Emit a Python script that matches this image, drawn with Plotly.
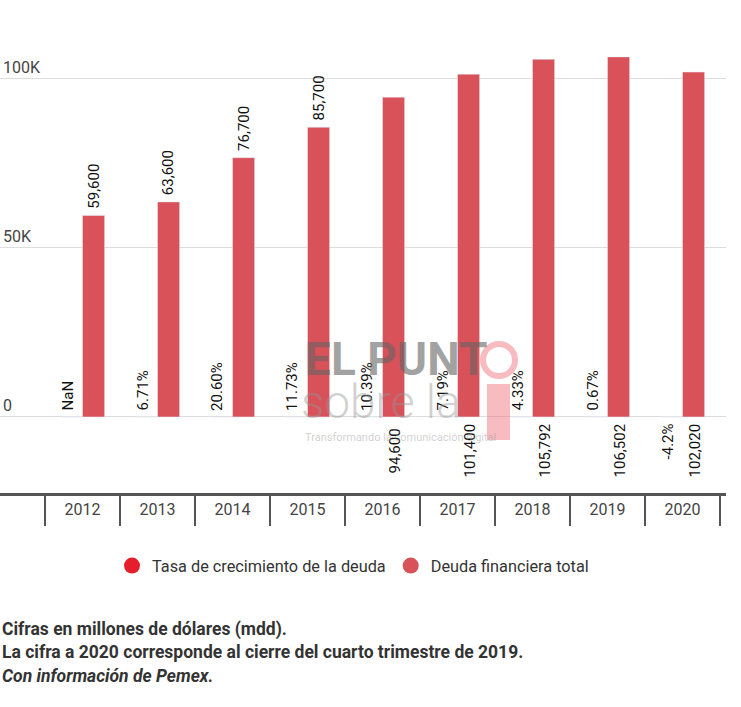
import plotly.graph_objects as go

# datos (millones de dólares)
years = ["2012", "2013", "2014", "2015", "2016", "2017", "2018", "2019", "2020"]
deuda_total = [59600, 63600, 76700, 85700, 94600, 101400, 105792, 106502, 102020]
tasa_crec = [None, 6.71, 20.60, 11.73, 10.39, 7.19, 4.33, 0.67, -4.2]
tasa_labels = ["NaN", "6.71%", "20.60%", "11.73%", "10.39%", "7.19%", "4.33%", "0.67%", "-4.2%"]
y_ticks = [0, 50000, 100000]
y_tick_labels = ["0", "50K", "100K"]

# etiquetas de deuda que no caben arriba van bajo el eje
deuda_label_below = [False, False, False, False, True, True, True, True, True]

COLOR_TASA = "#e41f2b"
COLOR_DEUDA = "#d9525a"
FONT = "Roboto"

# geometría en pixeles (ventana 741x707)
W, H = 741, 707
M_T, M_B, M_L, M_R = 40, 214, 0, 15
PLOT_H = H - M_T - M_B
PLOT_W = W - M_L - M_R


def py(p):
    """pixel vertical -> coordenada paper"""
    return (H - M_B - p) / PLOT_H


def px(p):
    return (p - M_L) / PLOT_W


fig = go.Figure()

fig.add_trace(go.Bar(
    x=years, y=[v if v is not None else 0 for v in tasa_crec],
    name="Tasa de crecimiento de la deuda",
    marker_color=COLOR_TASA, showlegend=False, hoverinfo="skip",
))
fig.add_trace(go.Bar(
    x=years, y=deuda_total,
    name="Deuda financiera total",
    marker_color=COLOR_DEUDA, showlegend=False,
))

# entradas de leyenda con círculos
for name, color in [("Tasa de crecimiento de la deuda", COLOR_TASA),
                    ("Deuda financiera total", COLOR_DEUDA)]:
    fig.add_trace(go.Scatter(
        x=[None], y=[None], mode="markers", name=name,
        marker=dict(size=20, color=color, symbol="circle"),
    ))

label_font = dict(family=FONT, size=15, color="#111111")
annotations = []

for i, (v, lab) in enumerate(zip(tasa_crec, tasa_labels)):
    neg = v is not None and v < 0
    annotations.append(dict(
        x=i - 0.2, y=0, xref="x", yref="y", text=lab, textangle=-90,
        showarrow=False, font=label_font, xanchor="center",
        yanchor="top" if neg else "bottom", yshift=-5 if neg else 4,
    ))

for i, (v, below) in enumerate(zip(deuda_total, deuda_label_below)):
    text = f"{v:,}"
    if below:
        annotations.append(dict(
            x=i + 0.16, y=0, xref="x", yref="y", text=text, textangle=-90,
            showarrow=False, font=label_font, xanchor="center",
            yanchor="middle", yshift=-34,
        ))
    else:
        annotations.append(dict(
            x=i + 0.15, y=v, xref="x", yref="y", text=text, textangle=-90,
            showarrow=False, font=label_font, xanchor="center",
            yanchor="bottom", yshift=5,
        ))

# notas al pie
notes = [
    ("<b>Cifras en millones de dólares (mdd).</b>", 629),
    ("<b>La cifra a 2020 corresponde al cierre del cuarto trimestre de 2019.</b>", 652),
    ("<b><i>Con información de Pemex.</i></b>", 676),
]
for txt, ypix in notes:
    annotations.append(dict(
        x=0, y=py(ypix), xref="paper", yref="paper", text=txt, showarrow=False,
        xanchor="left", yanchor="middle", align="left",
        font=dict(family=FONT, size=17.5, color="#333333"),
    ))

# marca de agua
annotations += [
    dict(x=px(303), y=py(359), xref="paper", yref="paper", text="<b>EL PUNT</b>",
         showarrow=False, xanchor="left", yanchor="middle",
         font=dict(family=FONT, size=46, color="rgba(100,100,100,0.6)")),
    dict(x=px(299), y=py(402), xref="paper", yref="paper", text="sobre la",
         showarrow=False, xanchor="left", yanchor="middle",
         font=dict(family=FONT, size=46, weight=300, color="rgba(150,150,150,0.45)")),
    dict(x=px(303), y=py(437), xref="paper", yref="paper",
         text="Transformando la comunicación digital",
         showarrow=False, xanchor="left", yanchor="middle",
         font=dict(family=FONT, size=11, color="rgba(150,150,150,0.45)")),
]

shapes = [
    dict(type="rect", xref="paper", yref="paper", x0=px(487), x1=px(510),
         y0=py(440), y1=py(384), line_width=0, fillcolor="rgba(240,120,130,0.5)"),
    dict(type="circle", xref="paper", yref="paper", x0=px(483), x1=px(515),
         y0=py(376), y1=py(344), line=dict(color="rgba(240,120,130,0.5)", width=6)),
]

fig.update_layout(
    width=W, height=H,
    margin=dict(t=M_T, b=M_B, l=M_L, r=M_R),
    paper_bgcolor="white", plot_bgcolor="white",
    barmode="group", bargap=0.41, bargroupgap=0.0,
    font=dict(family=FONT, color="#444444"),
    annotations=annotations, shapes=shapes,
    legend=dict(
        orientation="h", x=px(353), xanchor="center", y=py(566), yanchor="middle",
        font=dict(family=FONT, size=16.3, color="#333333"), itemsizing="trace",
    ),
)

fig.update_xaxes(
    type="category", range=[-1.1, 8.58], tickson="boundaries",
    ticks="outside", ticklen=30, tickwidth=1.5, tickcolor="#555555",
    showline=True, linecolor="#555555", linewidth=3,
    showgrid=False, tickfont=dict(family=FONT, size=16, color="#444444"),
    fixedrange=True,
)
fig.update_yaxes(
    range=[-22500, 111500], tickvals=y_ticks, ticktext=y_tick_labels,
    ticklabelposition="inside top", showgrid=True, gridcolor="#dddddd",
    gridwidth=1, zeroline=False, showline=False, ticks="",
    tickfont=dict(family=FONT, size=16, color="#444444"), fixedrange=True,
)

fig.write_html(
    "out.html",
    config={"displayModeBar": False},
    post_script="document.body.style.margin='0px';",
)
